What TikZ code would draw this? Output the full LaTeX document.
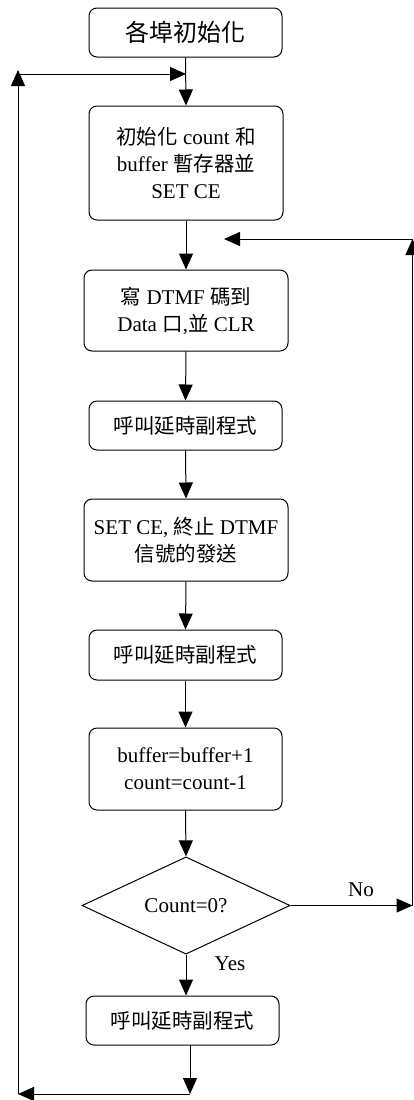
\documentclass[tikz,border=0pt]{standalone}
\usepackage{fontspec}
\setmainfont{Liberation Serif}
\newfontfamily\cjkf{Noto Sans CJK TC}
\newcommand{\zh}[1]{{\cjkf\fontsize{20.5}{27}\selectfont #1}}
\usetikzlibrary{shapes.geometric,arrows.meta}
\tikzset{
  box/.style={draw, line width=1pt, rounded corners=8pt, align=center, inner sep=0pt,
    font=\fontsize{21}{27}\selectfont},
  dia/.style={draw, line width=1pt, diamond, inner sep=0pt, font=\fontsize{21}{27}\selectfont},
  arr/.style={line width=1pt, -{Triangle[length=16pt,width=14pt]}},
  lbl/.style={font=\fontsize{21}{24}\selectfont, inner sep=0pt}
}
\begin{document}
\begin{tikzpicture}[x=1pt,y=-1pt]
\useasboundingbox (0,0) rectangle (414,1100);
\node[box, minimum width=193pt, minimum height=49pt] (b1) at (185.5,32.5)
  {{\cjkf\fontsize{24}{28}\selectfont 各埠初始化}};
\node[box, minimum width=194pt, minimum height=114pt] (b2) at (186,163)
  {\zh{初始化} count \zh{和}\\buffer \zh{暫存器並}\\SET CE};
\node[box, minimum width=204pt, minimum height=81pt] (b3) at (186,310.5)
  {\zh{寫} DTMF \zh{碼到}\\Data \zh{口},\zh{並} CLR};
\node[box, minimum width=193pt, minimum height=49pt] (b4) at (185.5,425.5)
  {\zh{呼叫延時副程式}};
\node[box, minimum width=204pt, minimum height=82pt] (b5) at (186,540)
  {SET CE, \zh{終止} DTMF\\\zh{信號的發送}};
\node[box, minimum width=193pt, minimum height=50pt] (b6) at (185.5,655)
  {\zh{呼叫延時副程式}};
\node[box, minimum width=193pt, minimum height=82pt] (b7) at (185.5,769)
  {buffer=buffer+1\\count=count-1};
\node[dia, minimum width=208pt, minimum height=81pt] (d) at (186,905.5) {Count=0?};
\node[box, minimum width=193pt, minimum height=49pt] (b8) at (182.5,1020.5)
  {\zh{呼叫延時副程式}};

\coordinate (tj) at (186,74);
\coordinate (lt) at (18,70);
\coordinate (lh) at (18,74);
\coordinate (lb) at (18,1094);
\coordinate (b8o) at (190,1045);
\coordinate (bj) at (190,1094);
\coordinate (rr) at (412.5,905.5);
\coordinate (rt) at (412.5,239);
\coordinate (rl) at (224,239);

\draw[arr] (b1.south) -- (b2.north);
\draw[arr] (b2.south) -- (b3.north);
\draw[arr] (b3.south) -- (b4.north);
\draw[arr] (b4.south) -- (b5.north);
\draw[arr] (b5.south) -- (b6.north);
\draw[arr] (b6.south) -- (b7.north);
\draw[arr] (b7.south) -- (d.north);
\draw[arr] (d.south) -- (d.south |- b8.north);
\draw[arr] (b8o) -- (bj);
\draw[arr] (bj) -- (lb);
\draw[arr] (lb) -- (lt);
\draw[arr] (lh) -- (tj);
\draw[arr] (d.east) -- (rr);
\draw[arr] (rr) -- (rt);
\draw[arr] (rt) -- (rl);

\node[lbl] (no) at (361,890) {No};
\node[lbl] (yes) at (230,964) {Yes};
\end{tikzpicture}
\end{document}
